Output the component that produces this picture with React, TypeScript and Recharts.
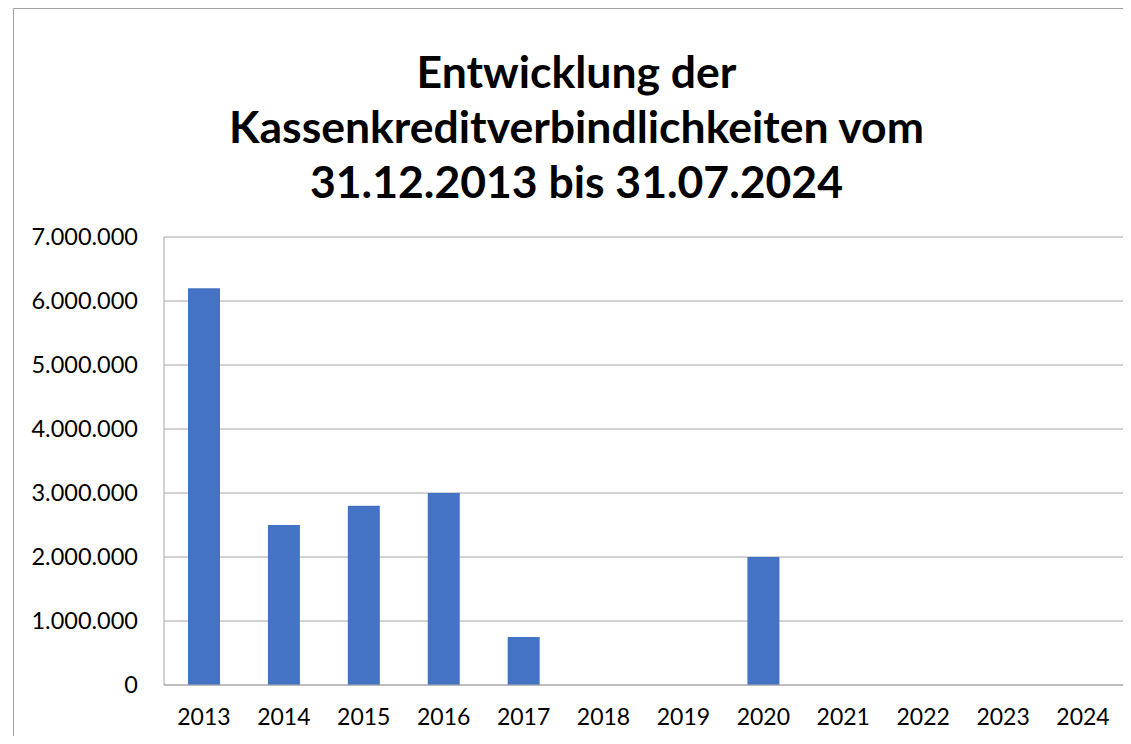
import React from 'react';
import { BarChart, Bar, XAxis, YAxis, CartesianGrid } from 'recharts';

// Stichtage (jeweils 31.12., zuletzt 31.07.2024)
const years = ['2013', '2014', '2015', '2016', '2017', '2018', '2019', '2020', '2021', '2022', '2023', '2024'];
const kassenkredite = [6200000, 2500000, 2800000, 3000000, 750000, 0, 0, 2000000, 0, 0, 0, 0];
const yTicks = [0, 1000000, 2000000, 3000000, 4000000, 5000000, 6000000, 7000000];
const titleLines = ['Entwicklung der', 'Kassenkreditverbindlichkeiten vom', '31.12.2013 bis 31.07.2024'];

const chartData = years.map((year, i) => ({ year, value: kassenkredite[i] }));

const formatDe = (v: number) => String(v).replace(/\B(?=(\d{3})+(?!\d))/g, '.');

const FONT = 'Lato, "Open Sans", sans-serif';

export default function App() {
  return (
    <div style={{ position: 'relative', width: 1123, height: 728, overflow: 'hidden', background: '#fff', fontFamily: FONT }}>
      {/* Rahmen des Diagrammbereichs: nur links und oben sichtbar */}
      <svg width={1123} height={728} style={{ position: 'absolute', left: 0, top: 0 }}>
        <line x1={5.5} y1={0.5} x2={1123} y2={0.5} stroke="#a0a0a0" strokeWidth={1} />
        <line x1={5.5} y1={0.5} x2={5.5} y2={728} stroke="#a0a0a0" strokeWidth={1} />
      </svg>
      {titleLines.map((line, i) => (
        <div
          key={line}
          style={{
            position: 'absolute',
            left: 0,
            width: 1137,
            top: 35 + i * 55,
            height: 55,
            lineHeight: '55px',
            textAlign: 'center',
            fontWeight: 700,
            fontSize: 44.5,
            color: '#000',
          }}
        >
          {line}
        </div>
      ))}
      <div style={{ position: 'absolute', left: 0, top: 0 }}>
        <BarChart width={1123} height={728} data={chartData} margin={{ top: 229, right: 8, bottom: 0, left: 0 }}>
          <CartesianGrid vertical={false} stroke="#a6a6a6" strokeWidth={1} />
          <XAxis
            dataKey="year"
            height={51}
            axisLine={{ stroke: '#a6a6a6' }}
            tickLine={false}
            tickSize={0}
            tickMargin={24}
            tick={{ fill: '#000', fontSize: 23, fontFamily: FONT }}
            interval={0}
          />
          <YAxis
            width={156}
            domain={[0, 7000000]}
            ticks={yTicks}
            axisLine={{ stroke: '#a6a6a6' }}
            tickLine={false}
            tickSize={0}
            tickMargin={26}
            tickFormatter={formatDe}
            tick={{ fill: '#000', fontSize: 23.5, fontFamily: FONT }}
          />
          <Bar dataKey="value" fill="#4472c4" barSize={32} isAnimationActive={false} />
        </BarChart>
      </div>
    </div>
  );
}
